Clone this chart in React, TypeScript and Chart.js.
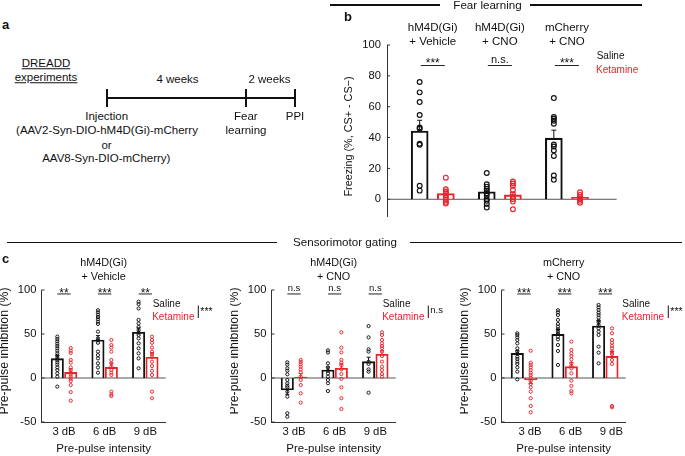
import React, { useEffect, useRef } from 'react';
import { Chart, registerables } from 'chart.js';

Chart.register(...registerables);

const FONT = "'Liberation Sans', Arial, Helvetica, sans-serif";
const INK = '#111111';
const RED = '#e8242b';
const AXIS = '#333333';

// ---------- shared ----------
const GROUP_X = [1, 2, 3];

// ---------- Panel b : fear learning ----------
const B_GROUP_TITLES = [['hM4D(Gi)', '+ Vehicle'], ['hM4D(Gi)', '+ CNO'], ['mCherry', '+ CNO']];
const B_Y_TICKS = [0, 20, 40, 60, 80, 100];
const B_SALINE_MEAN = [44.2, 4.8, 39.6];
const B_KETAMINE_MEAN = [3.7, 2.8, 1.3];
const B_SALINE_SEM = [7, 2.2, 5.2];
const B_KETAMINE_SEM = [1.5, 1.6, 0.6];
const B_SALINE_POINTS = [
  [76, 69.3, 63, 54.6, 46.5, 45.7, 36, 35.3, 8.7, 5.6],
  [17, 9.7, 8.2, 6.7, 5.4, 3.9, 2.4, 0.2, -1, -3, -5.4],
  [65.6, 53.3, 52.2, 50.9, 49, 35.5, 34.2, 31.6, 28.1, 15.4, 12.6],
];
const B_KETAMINE_POINTS = [
  [14, 6.5, 5, 3.7, 2.4, 1, -0.4, -1.7, -2.8],
  [11.5, 10.2, 8.7, 6, 3.2, 1.7, 0.2, -1.5, -6.5],
  [4.5, 2.8, 1.5, 0.2, -1, -2.2],
];
const B_SIG = ['***', 'n.s.', '***'];

// ---------- Panel c : sensorimotor gating ----------
const C_X_LABELS = ['3 dB', '6 dB', '9 dB'];
const C_Y_TICKS = [-50, 0, 50, 100];

const C1_TITLE = ['hM4D(Gi)', '+ Vehicle'];
const C1_SALINE_MEAN = [22, 43.2, 51.9];
const C1_KETAMINE_MEAN = [6.4, 12.1, 23.5];
const C1_SALINE_SEM = [3.5, 5, 5];
const C1_KETAMINE_SEM = [4, 5, 5];
const C1_SALINE_POINTS = [
  [47, 44.3, 41.7, 39, 36.4, 33.7, 31, 28, 25.4, 22.7, 20.5, 17.8, 15.2, 12, 9, 5.3, 1.5, -9.8],
  [77, 74.6, 72, 69.3, 66.7, 64, 61.4, 52.7, 45, 42.8, 40, 30, 26, 22.3, 16.7, 12, 6],
  [86.7, 84, 79, 66, 62, 58, 54.5, 51.5, 48.9, 45, 39.4, 33.7, 28, 22.3, 11],
];
const C1_KETAMINE_POINTS = [
  [34, 31, 28.4, 20.5, 17.4, 12, 9, 6, 3.8, 1.5, -0.8, -3.4, -8, -16, -25.8],
  [43.2, 37.5, 34.5, 30, 20.5, 16.7, 12.9, 9, 6, 3.4, -15.5, -18.6, -20.5],
  [47, 43.2, 40, 34.5, 30, 27.3, 24.2, 18.6, 13.6, 8.3, 3.4, -15.5, -23],
];
const C1_SIG = ['**', '***', '**'];
const C1_OVERALL = '***';

const C2_TITLE = ['hM4D(Gi)', '+ CNO'];
const C2_SALINE_MEAN = [-13.6, 9, 18.6];
const C2_KETAMINE_MEAN = [1, 11, 26.9];
const C2_SALINE_SEM = [5, 3.5, 5];
const C2_KETAMINE_SEM = [4, 5, 4];
const C2_SALINE_POINTS = [
  [17.8, 15.2, 11, 8.3, 4.2, -2.3, -6, -8.7, -10.6, -15.5, -21.2, -40, -44],
  [31.4, 29, 16.7, 12, 8.3, 5.3, 1.5, -2.3, -6, -14.8],
  [59, 46.2, 32.6, 30, 18.6, 16, 9.8, 7.2, -16.7],
];
const C2_KETAMINE_POINTS = [
  [20.5, 18.2, 15.5, 12.9, 9.8, 6.4, 1.5, -2.3, -8, -17.4, -28],
  [51.9, 34.5, 29, 20.5, 17.4, 14.4, 9.8, 4.5, -1, -10.6, -23, -35.2],
  [51.9, 48.9, 43.2, 39.4, 36.4, 33.7, 30, 25, 18.6, 12.9, 9, 4.5, 1.5],
];
const C2_SIG = ['n.s', 'n.s', 'n.s'];
const C2_OVERALL = 'n.s';

const C3_TITLE = ['mCherry', '+ CNO'];
const C3_SALINE_MEAN = [28, 49.6, 59];
const C3_KETAMINE_MEAN = [-2.3, 12.9, 24.6];
const C3_SALINE_SEM = [3, 5.5, 6.5];
const C3_KETAMINE_SEM = [4, 4.5, 5.5];
const C3_SALINE_POINTS = [
  [50.8, 48.9, 46.2, 43.2, 39.4, 33.7, 30, 27.3, 24.2, 21.6, 18.6, 16, 12.1, 7.2, -1.5],
  [77, 74.6, 71.6, 66, 61.4, 58.3, 55.3, 52.7, 50, 47, 43.9, 37.5, 30.7, 14.8],
  [83, 80.3, 77.3, 74.2, 71.6, 68.6, 65, 63, 60, 56.4, 52.7, 48.9, 35.6, 28.8, 16.7],
];
const C3_KETAMINE_POINTS = [
  [31, 17.4, 14.8, 12.1, 9, 6, 3.4, 0.4, -3.4, -6.8, -10.6, -15.5, -23, -31.8, -39],
  [41.3, 31.8, 28, 25, 21.2, 16.7, 13.6, 11, 5.3, -3, -9, -14.8, -17.4],
  [56.4, 50.8, 43.2, 40, 36.7, 33.7, 30, 27.3, 20.5, 16, -31.8, -33.3],
];
const C3_SIG = ['***', '***', '***'];
const C3_OVERALL = '***';

// ---------- specs ----------
type Spec = {
  left: number; top: number; w: number; h: number;
  yAxisW: number; pad: { left: number; right: number; top: number; bottom: number };
  xMin: number; xMax: number; yMin: number; yMax: number; yTicks: number[];
  xLabels: string[] | null; xTitle: string | null; labelOffset: number; xAxisH: number;
  off: number; barW: number; pointR: number; pointBW: number; barBorderW: number; capW: number;
  salMean: number[]; ketMean: number[]; salSem: number[]; ketSem: number[];
  salPts: number[][]; ketPts: number[][];
  sig: string[]; sigY: number; sigHalf: number; starFont: number; textSigFont: number; starDy: number; textDy: number;
  titles: string[][]; titleAtGroups: boolean; titleYs: number[]; titleFont: number;
  legend: { sx: number; sy: number; kx: number; ky: number; font: number };
  overall: { text: string; x: number; y1: number; y2: number; ty: number } | null;
  yTitle: string; yTitleX: number; yTitleY: number; yTitleFont: number;
  tickFont: number; tickPad: number;
};

const SPEC_B: Spec = {
  left: 340, top: 0, w: 345, h: 230,
  yAxisW: 47, pad: { left: 0, right: 68.3, top: 45, bottom: 13.3 },
  xMin: 0.318, xMax: 3.742, yMin: -11.3, yMax: 100, yTicks: B_Y_TICKS,
  xLabels: null, xTitle: null, labelOffset: 0, xAxisH: 0,
  off: 0.195, barW: 17, pointR: 2.4, pointBW: 1.15, barBorderW: 1.4, capW: 2.5,
  salMean: B_SALINE_MEAN, ketMean: B_KETAMINE_MEAN, salSem: B_SALINE_SEM, ketSem: B_KETAMINE_SEM,
  salPts: B_SALINE_POINTS, ketPts: B_KETAMINE_POINTS,
  sig: B_SIG, sigY: 86.7, sigHalf: 12, starFont: 12, textSigFont: 11, starDy: 1.6, textDy: -2.2,
  titles: B_GROUP_TITLES, titleAtGroups: true, titleYs: [28, 42], titleFont: 11.5,
  legend: { sx: 256.7, sy: 56.7, kx: 256, ky: 70, font: 10 },
  overall: null,
  yTitle: 'Freezing (%, CS+ - CS\u2212)', yTitleX: 9.5, yTitleY: 136.5, yTitleFont: 10.8,
  tickFont: 11.2, tickPad: 6,
};

function cSpec(left: number, title: string[], salMean: number[], ketMean: number[], salSem: number[], ketSem: number[],
  salPts: number[][], ketPts: number[][], sig: string[], overall: string, legendX: number, overallX: number, labelOffset: number): Spec {
  return {
    left, top: 230, w: left === 460 ? 225 : 230, h: 226,
    yAxisW: 41.5, pad: { left: 0, right: (left === 460 ? 225 : 230) - 165.7, top: 60, bottom: 0 },
    xMin: 0.446, xMax: 3.502, yMin: -50, yMax: 100, yTicks: C_Y_TICKS,
    xLabels: C_X_LABELS, xTitle: 'Pre-pulse intensity', labelOffset, xAxisH: 34,
    off: 0.165, barW: 12.4, pointR: 1.6, pointBW: 0.95, barBorderW: 1.2, capW: 2,
    salMean, ketMean, salSem, ketSem, salPts, ketPts,
    sig, sigY: 95.5, sigHalf: 6.7, starFont: 12, textSigFont: 9.5, starDy: 3, textDy: -3,
    titles: [title], titleAtGroups: false, titleYs: [33.5, 47], titleFont: 10.8,
    legend: { sx: legendX, sy: 74, kx: legendX - 0.5, ky: 87, font: 10 },
    overall: { text: overall, x: overallX, y1: 75.5, y2: 88, ty: 80 },
    yTitle: 'Pre-pulse inhibition (%)', yTitleX: 4.8, yTitleY: 121, yTitleFont: 12.3,
    tickFont: 11.2, tickPad: 5,
  };
}

const SPEC_C1 = cSpec(0, C1_TITLE, C1_SALINE_MEAN, C1_KETAMINE_MEAN, C1_SALINE_SEM, C1_KETAMINE_SEM,
  C1_SALINE_POINTS, C1_KETAMINE_POINTS, C1_SIG, C1_OVERALL, 152.7, 198.3, 0);
const SPEC_C2 = cSpec(230, C2_TITLE, C2_SALINE_MEAN, C2_KETAMINE_MEAN, C2_SALINE_SEM, C2_KETAMINE_SEM,
  C2_SALINE_POINTS, C2_KETAMINE_POINTS, C2_SIG, C2_OVERALL, 152.7, 198.3, 0);
const SPEC_C3 = cSpec(460, C3_TITLE, C3_SALINE_MEAN, C3_KETAMINE_MEAN, C3_SALINE_SEM, C3_KETAMINE_SEM,
  C3_SALINE_POINTS, C3_KETAMINE_POINTS, C3_SIG, C3_OVERALL, 162.3, 208.3, 6);

function makeDecor(s: Spec) {
  const font = (size: number) => `${size}px ${FONT}`;
  return {
    id: 'decor',
    beforeDatasetsDraw(chart: any) {
      const { ctx, chartArea: a, scales } = chart;
      const y0 = scales.y.getPixelForValue(0);
      ctx.save();
      ctx.strokeStyle = '#555555';
      ctx.lineWidth = 1;
      ctx.beginPath();
      ctx.moveTo(a.left, y0);
      ctx.lineTo(a.right, y0);
      ctx.stroke();
      ctx.restore();
    },
    afterDraw(chart: any) {
      const { ctx, chartArea: a, scales } = chart;
      const xs = scales.x, ys = scales.y;
      ctx.save();
      const line = (x1: number, y1: number, x2: number, y2: number, color: string, w = 1) => {
        ctx.strokeStyle = color;
        ctx.lineWidth = w;
        ctx.beginPath();
        ctx.moveTo(x1, y1);
        ctx.lineTo(x2, y2);
        ctx.stroke();
      };
      // inward y ticks
      s.yTicks.forEach((v) => {
        const py = ys.getPixelForValue(v);
        line(a.left, py, a.left + 3, py, AXIS);
      });
      // error bars
      const drawErr = (means: number[], sems: number[], dx: number, color: string) => {
        means.forEach((m, i) => {
          const x = xs.getPixelForValue(GROUP_X[i] + dx);
          const dir = m < 0 ? -1 : 1;
          const y1 = ys.getPixelForValue(m);
          const y2 = ys.getPixelForValue(m + dir * sems[i]);
          line(x, y1, x, y2, color);
          line(x - s.capW, y2, x + s.capW, y2, color);
        });
      };
      drawErr(s.salMean, s.salSem, -s.off, INK);
      drawErr(s.ketMean, s.ketSem, s.off, RED);
      // significance
      const sy = ys.getPixelForValue(s.sigY);
      ctx.textAlign = 'center';
      ctx.textBaseline = 'alphabetic';
      s.sig.forEach((t, i) => {
        const cx = xs.getPixelForValue(GROUP_X[i]);
        line(cx - s.sigHalf, sy, cx + s.sigHalf, sy, '#222222', 1);
        const star = t.indexOf('*') >= 0;
        ctx.fillStyle = INK;
        ctx.font = font(star ? s.starFont : s.textSigFont);
        ctx.fillText(t, cx, sy + (star ? s.starDy : s.textDy));
      });
      // titles
      ctx.fillStyle = INK;
      ctx.font = font(s.titleFont);
      ctx.textBaseline = 'middle';
      s.titles.forEach((lines, i) => {
        const cx = s.titleAtGroups ? xs.getPixelForValue(GROUP_X[i]) : (a.left + a.right) / 2;
        lines.forEach((txt, j) => ctx.fillText(txt, cx, s.titleYs[j]));
      });
      // legend
      ctx.textAlign = 'left';
      ctx.font = font(s.legend.font);
      ctx.fillStyle = INK;
      ctx.fillText('Saline', s.legend.sx, s.legend.sy);
      ctx.fillStyle = RED;
      ctx.fillText('Ketamine', s.legend.kx, s.legend.ky);
      if (s.overall) {
        const o = s.overall;
        line(o.x, o.y1, o.x, o.y2, INK, 1);
        const star = o.text.indexOf('*') >= 0;
        ctx.fillStyle = INK;
        ctx.font = font(star ? 10.5 : s.textSigFont);
        ctx.fillText(o.text, o.x + 2, o.ty + (star ? 2.5 : 0));
      }
      // y title
      ctx.translate(s.yTitleX, s.yTitleY);
      ctx.rotate(-Math.PI / 2);
      ctx.textAlign = 'center';
      ctx.textBaseline = 'middle';
      ctx.fillStyle = INK;
      ctx.font = font(s.yTitleFont);
      ctx.fillText(s.yTitle, 0, 0);
      ctx.restore();
    },
  };
}

function buildConfig(s: Spec): any {
  const pts = (arr: number[][], dx: number) =>
    arr.flatMap((vals, i) => vals.map((v) => ({ x: GROUP_X[i] + dx, y: v })));
  const bars = (means: number[], dx: number) => means.map((v, i) => ({ x: GROUP_X[i] + dx, y: v }));
  return {
    type: 'scatter',
    data: {
      datasets: [
        {
          type: 'scatter', label: 'Saline points', data: pts(s.salPts, -s.off),
          pointRadius: s.pointR, pointBorderWidth: s.pointBW, borderColor: INK, backgroundColor: 'rgba(0,0,0,0)',
          pointBorderColor: INK, pointBackgroundColor: 'rgba(0,0,0,0)',
        },
        {
          type: 'scatter', label: 'Ketamine points', data: pts(s.ketPts, s.off),
          pointRadius: s.pointR, pointBorderWidth: s.pointBW, borderColor: RED, backgroundColor: 'rgba(0,0,0,0)',
          pointBorderColor: RED, pointBackgroundColor: 'rgba(0,0,0,0)',
        },
        {
          type: 'bar', label: 'Saline', data: bars(s.salMean, -s.off), grouped: false, barThickness: s.barW,
          borderColor: INK, backgroundColor: 'rgba(255,255,255,0)', borderWidth: s.barBorderW, borderSkipped: 'start',
        },
        {
          type: 'bar', label: 'Ketamine', data: bars(s.ketMean, s.off), grouped: false, barThickness: s.barW,
          borderColor: RED, backgroundColor: 'rgba(255,255,255,0)', borderWidth: s.barBorderW, borderSkipped: 'start',
        },
      ],
    },
    options: {
      animation: false,
      responsive: false,
      events: [],
      layout: { padding: s.pad },
      plugins: { legend: { display: false }, tooltip: { enabled: false }, title: { display: false } },
      scales: {
        x: {
          type: 'linear', min: s.xMin, max: s.xMax, offset: false,
          display: !!s.xLabels,
          grid: { display: false, drawTicks: false },
          border: { display: true, color: AXIS, width: 1 },
          ticks: {
            font: { family: FONT, size: 11.3 }, color: INK, padding: 3, maxRotation: 0, minRotation: 0,
            autoSkip: false, labelOffset: s.labelOffset,
            callback: (_v: any, i: number) => (s.xLabels ? s.xLabels[i] : ''),
          },
          afterBuildTicks: (sc: any) => { sc.ticks = GROUP_X.map((v) => ({ value: v })); },
          afterFit: (sc: any) => { sc.height = s.xAxisH; },
          title: {
            display: !!s.xTitle, text: s.xTitle || '', color: INK,
            font: { family: FONT, size: 11.5 }, padding: { top: 0, bottom: 0 },
          },
        },
        y: {
          type: 'linear', min: s.yMin, max: s.yMax,
          grid: { display: false, drawTicks: false },
          border: { display: true, color: AXIS, width: 1 },
          ticks: { font: { family: FONT, size: s.tickFont }, color: INK, padding: s.tickPad, autoSkip: false },
          afterBuildTicks: (sc: any) => { sc.ticks = s.yTicks.map((v) => ({ value: v })); },
          afterFit: (sc: any) => { sc.width = s.yAxisW; },
        },
      },
    },
    plugins: [makeDecor(s)],
  };
}

function PanelChart({ spec }: { spec: Spec }) {
  const ref = useRef<HTMLCanvasElement>(null);
  useEffect(() => {
    if (!ref.current) return;
    const chart = new Chart(ref.current, buildConfig(spec));
    return () => chart.destroy();
  }, [spec]);
  return (
    <canvas
      ref={ref}
      width={spec.w}
      height={spec.h}
      style={{ position: 'absolute', left: spec.left, top: spec.top, width: spec.w, height: spec.h }}
    />
  );
}

function T({ x, y, size = 11.5, bold = false, underline = false, children }: any) {
  return (
    <div
      style={{
        position: 'absolute', left: x, top: y, transform: 'translate(-50%, -50%)',
        fontSize: size, lineHeight: 1, whiteSpace: 'nowrap', color: INK,
        fontWeight: bold ? 'bold' : 'normal', textDecoration: underline ? 'underline' : 'none',
      }}
    >
      {children}
    </div>
  );
}

function Bar({ x, y, w, h }: { x: number; y: number; w: number; h: number }) {
  return <div style={{ position: 'absolute', left: x, top: y, width: w, height: h, background: INK }} />;
}

export default function App() {
  return (
    <div
      style={{
        position: 'absolute', left: 0, top: 0, width: 685, height: 456, background: '#ffffff',
        fontFamily: FONT, overflow: 'hidden',
      }}
    >
      <PanelChart spec={SPEC_B} />
      <PanelChart spec={SPEC_C1} />
      <PanelChart spec={SPEC_C2} />
      <PanelChart spec={SPEC_C3} />

      {/* panel letters */}
      <T x={5.5} y={23.5} size={13} bold>a</T>
      <T x={348} y={16} size={13} bold>b</T>
      <T x={5.5} y={258} size={13} bold>c</T>

      {/* panel a timeline */}
      <T x={46} y={63.5} underline>DREADD</T>
      <T x={46} y={78} underline>experiments</T>
      <T x={177.5} y={80}>4 weeks</T>
      <T x={269.5} y={80}>2 weeks</T>
      <Bar x={107} y={97.3} w={188} h={2} />
      <Bar x={106.3} y={89} w={2} h={18} />
      <Bar x={244.7} y={89} w={2} h={18} />
      <Bar x={293.5} y={89} w={2} h={18} />
      <T x={106.7} y={117.3}>Injection</T>
      <T x={107} y={131}>(AAV2-Syn-DIO-hM4D(Gi)-mCherry</T>
      <T x={106.5} y={145.5}>or</T>
      <T x={106.3} y={159.3}>AAV8-Syn-DIO-mCherry)</T>
      <T x={245.8} y={117.3}>Fear</T>
      <T x={246} y={131}>learning</T>
      <T x={295} y={117.3}>PPI</T>

      {/* section headers */}
      <T x={487.5} y={5} size={11.6}>Fear learning</T>
      <Bar x={330} y={4} w={110} h={1.5} />
      <Bar x={530} y={4} w={112} h={1.5} />
      <T x={345} y={241.5} size={11.6}>Sensorimotor gating</T>
      <Bar x={7} y={241.5} w={270} h={1.5} />
      <Bar x={410} y={241.5} w={272} h={1.5} />
    </div>
  );
}
